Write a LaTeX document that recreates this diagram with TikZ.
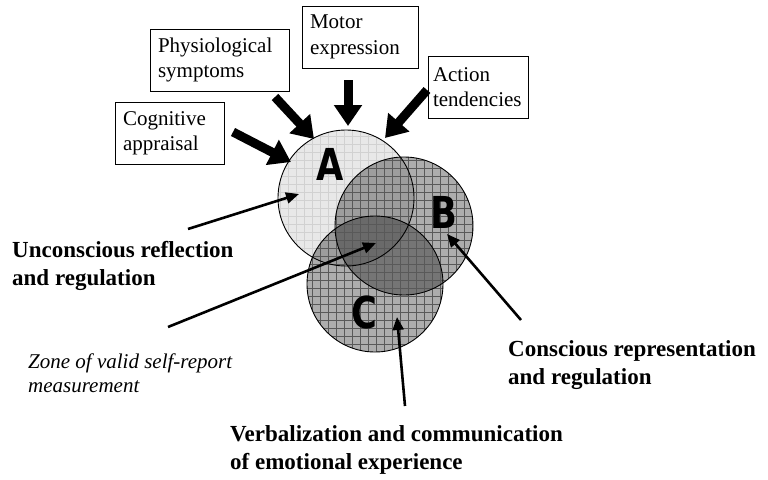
\documentclass[tikz,border=0pt]{standalone}
\usepackage{fontspec}
\setmainfont{Liberation Serif}
\newfontfamily\heavyfont{DejaVu Sans}
\usetikzlibrary{arrows.meta}
\begin{document}
\begin{tikzpicture}[x=1pt,y=-1pt,
  box/.style={draw, line width=0.8pt, inner xsep=8pt, inner ysep=0pt,
    font=\fontsize{21}{25.5}\selectfont, align=left},
  biglabel/.style={inner sep=0pt, anchor=base west, align=left,
    font=\fontsize{23}{28}\selectfont\bfseries},
  itlabel/.style={inner sep=0pt, anchor=base west, align=left,
    font=\fontsize{21}{23.5}\selectfont\itshape},
  letter/.style={inner sep=0pt, font=\heavyfont\bfseries\fontsize{44}{44}\selectfont, xscale=0.8},
  fatarrow/.style={line width=9pt, -{Triangle[length=21pt,width=27pt]}},
  thinarrow/.style={line width=2.6pt, -{Triangle[length=13pt,width=11pt]}},
  gridlight/.style={draw=black!18, line width=0.6pt},
  griddark/.style={draw=black!65, line width=0.7pt},
  rim/.style={draw=black, line width=0.9pt}
]
\useasboundingbox (0,0) rectangle (768,479);

% circles ---------------------------------------------------------
\fill[black!9] (346,198) circle[radius=68pt];
\begin{scope}
  \clip (346,198) circle[radius=68pt];
  \draw[gridlight, step=8pt] (270,120) grid (430,280);
\end{scope}
\fill[black, fill opacity=0.32] (404,226) circle[radius=69pt];
\fill[black, fill opacity=0.32] (375,284) circle[radius=68pt];
\begin{scope}
  \clip (404,226) circle[radius=69pt];
  \draw[griddark, step=8pt] (320,150) grid (480,300);
\end{scope}
\begin{scope}
  \clip (375,284) circle[radius=68pt];
  \draw[griddark, step=8pt] (300,210) grid (450,360);
\end{scope}
\node[rim, circle, minimum size=136pt, inner sep=0pt] (cA) at (346,198) {};
\node[rim, circle, minimum size=138pt, inner sep=0pt] (cB) at (404,226) {};
\node[rim, circle, minimum size=136pt, inner sep=0pt] (cC) at (375,284) {};

\node[letter] (lA) at (330,164) {A};
\node[letter] (lB) at (444,212) {B};
\node[letter] (lC) at (364,312) {C};

% boxes -----------------------------------------------------------
\node[box, text width=93pt, minimum height=62pt] (cog) at (169.5,133.5) {Cognitive\\appraisal};
\node[box, text width=123pt, minimum height=62pt] (phys) at (219.5,60) {Physiological\\symptoms};
\node[box, text width=100pt, minimum height=62pt] (motor) at (360,37) {Motor\\expression};
\node[box, text width=90pt, inner xsep=5pt, minimum height=62pt] (action) at (478,87) {Action\\tendencies};

% labels (anchor = baseline of last line) -------------------------
\node[biglabel] (unc) at (12,285) {Unconscious reflection\\and regulation};
\node[biglabel] (con) at (508,384) {Conscious representation\\and regulation};
\node[biglabel] (verb) at (230,469) {Verbalization and communication\\of emotional experience};
\node[itlabel] (zone) at (28,392) {Zone of valid self-report\\measurement};

% arrow ends ------------------------------------------------------
\coordinate (cogS) at (233,132);   \coordinate (cogT) at (291,162);
\coordinate (physS) at (275,97);   \coordinate (physT) at (314,139);
\coordinate (motS) at (348,80);    \coordinate (motT) at (348,126);
\coordinate (actS) at (427,90);    \coordinate (actT) at (385,138);
\coordinate (uncS) at (188,229);   \coordinate (uncT) at (299,194);
\coordinate (zoneS) at (168,327);  \coordinate (zoneT) at (376,243);
\coordinate (conS) at (521,320);   \coordinate (conT) at (447,234);
\coordinate (verbS) at (405,406);  \coordinate (verbT) at (397,317);

\draw[fatarrow] (cogS) -- (cogT);
\draw[fatarrow] (physS) -- (physT);
\draw[fatarrow] (motS) -- (motT);
\draw[fatarrow] (actS) -- (actT);
\draw[thinarrow] (uncS) -- (uncT);
\draw[thinarrow] (zoneS) -- (zoneT);
\draw[thinarrow] (conS) -- (conT);
\draw[thinarrow] (verbS) -- (verbT);
\end{tikzpicture}
\end{document}
